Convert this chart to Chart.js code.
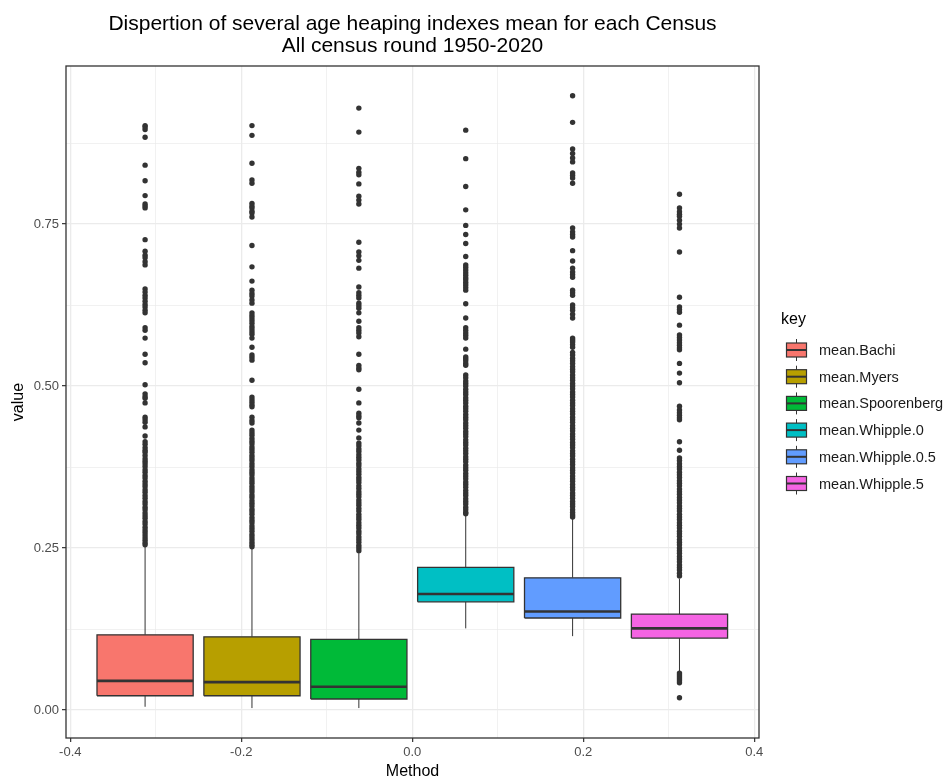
<!DOCTYPE html>
<html>
<head>
<meta charset="utf-8">
<title>Age heaping indexes</title>
<script src="https://cdn.jsdelivr.net/npm/chart.js@4.4.1/dist/chart.umd.min.js"></script>
<style>
    body { margin: 0; background: #ffffff; }
    #wrap { width: 944px; height: 781px; }
</style>
</head>
<body>
<div id="wrap"><canvas id="boxChart" width="944" height="781"></canvas></div>
<script>
// Series names, dodge positions and colours
var categories = ['mean.Bachi', 'mean.Myers', 'mean.Spoorenberg', 'mean.Whipple.0', 'mean.Whipple.0.5', 'mean.Whipple.5'];
var positions = [-0.3125, -0.1875, -0.0625, 0.0625, 0.1875, 0.3125];
var colors = ['#F8766D', '#B79F00', '#00BA38', '#00BFC4', '#619CFF', '#F564E3'];
var boxWidth = 0.1125;

// Box statistics
var lowerWhisker = [0.005, 0.003, 0.003, 0.126, 0.114, 0.057];
var q1 = [0.022, 0.022, 0.017, 0.167, 0.142, 0.111];
var median = [0.045, 0.043, 0.036, 0.179, 0.152, 0.126];
var q3 = [0.116, 0.113, 0.109, 0.220, 0.204, 0.148];
var upperWhisker = [0.252, 0.250, 0.243, 0.301, 0.296, 0.203];

// Outliers
var bachiOut = [0.902, 0.900, 0.896, 0.884, 0.841, 0.817, 0.794, 0.781, 0.778, 0.775, 0.726, 0.708, 0.702, 0.698, 0.692, 0.687,
    0.650, 0.645, 0.640, 0.636, 0.631, 0.626, 0.622, 0.617, 0.613, 0.590, 0.586, 0.574, 0.549, 0.536, 0.502, 0.488, 0.484,
    0.481, 0.474, 0.452, 0.448, 0.444, 0.437, 0.423, 0.414, 0.410, 0.405, 0.401, 0.398, 0.393, 0.388, 0.384, 0.380, 0.376,
    0.371, 0.367, 0.362, 0.358, 0.353, 0.349, 0.345, 0.340, 0.336, 0.331, 0.327, 0.322, 0.318, 0.313, 0.309, 0.304, 0.300,
    0.296, 0.291, 0.287, 0.282, 0.278, 0.274, 0.270, 0.266, 0.262, 0.258, 0.255];
var myersOut = [0.902, 0.887, 0.844, 0.818, 0.813, 0.782, 0.778, 0.775, 0.770, 0.767, 0.761, 0.717, 0.684, 0.662, 0.648, 0.643,
    0.639, 0.633, 0.628, 0.613, 0.609, 0.605, 0.601, 0.597, 0.592, 0.588, 0.584, 0.580, 0.574, 0.560, 0.548, 0.544, 0.540,
    0.509, 0.483, 0.479, 0.475, 0.471, 0.468, 0.452, 0.447, 0.443, 0.432, 0.428, 0.424, 0.419, 0.415, 0.411, 0.406, 0.402,
    0.398, 0.393, 0.389, 0.385, 0.380, 0.376, 0.371, 0.367, 0.363, 0.358, 0.354, 0.350, 0.345, 0.341, 0.337, 0.332, 0.328,
    0.323, 0.319, 0.315, 0.310, 0.306, 0.302, 0.297, 0.293, 0.289, 0.284, 0.280, 0.276, 0.271, 0.267, 0.263, 0.259, 0.255, 0.252];
var spoorenbergOut = [0.929, 0.892, 0.836, 0.830, 0.826, 0.812, 0.793, 0.787, 0.781, 0.722, 0.707, 0.701, 0.694, 0.682, 0.653,
    0.644, 0.640, 0.636, 0.628, 0.624, 0.620, 0.613, 0.600, 0.590, 0.586, 0.582, 0.576, 0.549, 0.532, 0.528, 0.525, 0.495,
    0.474, 0.458, 0.454, 0.451, 0.443, 0.432, 0.420, 0.412, 0.408, 0.403, 0.399, 0.394, 0.390, 0.386, 0.381, 0.377, 0.372,
    0.368, 0.364, 0.359, 0.355, 0.351, 0.346, 0.342, 0.337, 0.333, 0.329, 0.324, 0.320, 0.316, 0.311, 0.307, 0.302, 0.298,
    0.294, 0.289, 0.285, 0.281, 0.276, 0.272, 0.267, 0.263, 0.259, 0.254, 0.250, 0.246];
var whipple0Out = [0.895, 0.851, 0.808, 0.772, 0.748, 0.734, 0.720, 0.700, 0.687, 0.683, 0.679, 0.675, 0.671, 0.667, 0.664,
    0.660, 0.656, 0.652, 0.648, 0.627, 0.605, 0.590, 0.586, 0.582, 0.578, 0.574, 0.557, 0.545, 0.542, 0.539, 0.535, 0.532,
    0.517, 0.513, 0.508, 0.504, 0.500, 0.495, 0.491, 0.487, 0.482, 0.478, 0.474, 0.469, 0.465, 0.461, 0.456, 0.452, 0.448,
    0.443, 0.439, 0.435, 0.430, 0.426, 0.422, 0.417, 0.413, 0.409, 0.404, 0.400, 0.396, 0.391, 0.387, 0.383, 0.378, 0.374,
    0.370, 0.365, 0.361, 0.357, 0.352, 0.348, 0.344, 0.339, 0.335, 0.331, 0.326, 0.322, 0.318, 0.313, 0.309, 0.305, 0.303];
var whipple05Out = [0.948, 0.907, 0.866, 0.859, 0.852, 0.846, 0.829, 0.825, 0.821, 0.813, 0.744, 0.738, 0.734, 0.730, 0.709,
    0.693, 0.682, 0.676, 0.672, 0.668, 0.648, 0.644, 0.640, 0.625, 0.621, 0.617, 0.611, 0.605, 0.574, 0.571, 0.568, 0.564,
    0.560, 0.552, 0.548, 0.543, 0.539, 0.535, 0.530, 0.526, 0.522, 0.517, 0.513, 0.509, 0.504, 0.500, 0.496, 0.491, 0.487,
    0.483, 0.478, 0.474, 0.470, 0.465, 0.461, 0.457, 0.452, 0.448, 0.444, 0.439, 0.435, 0.431, 0.426, 0.422, 0.418, 0.413,
    0.409, 0.405, 0.400, 0.396, 0.392, 0.387, 0.383, 0.379, 0.374, 0.370, 0.366, 0.361, 0.357, 0.353, 0.348, 0.344, 0.340,
    0.335, 0.331, 0.327, 0.322, 0.318, 0.314, 0.309, 0.305, 0.301, 0.298];
var whipple5Out = [0.796, 0.775, 0.769, 0.765, 0.762, 0.756, 0.750, 0.744, 0.707, 0.637, 0.622, 0.618, 0.614, 0.594, 0.579,
    0.575, 0.571, 0.567, 0.563, 0.559, 0.556, 0.535, 0.520, 0.505, 0.469, 0.463, 0.459, 0.455, 0.451, 0.448, 0.414, 0.401,
    0.389, 0.385, 0.380, 0.376, 0.372, 0.367, 0.363, 0.359, 0.354, 0.350, 0.346, 0.341, 0.337, 0.333, 0.328, 0.324, 0.320,
    0.315, 0.311, 0.307, 0.302, 0.298, 0.294, 0.289, 0.285, 0.281, 0.276, 0.272, 0.268, 0.263, 0.259, 0.255, 0.250, 0.246,
    0.242, 0.237, 0.233, 0.229, 0.224, 0.220, 0.216, 0.211, 0.207, 0.057, 0.054, 0.051, 0.048, 0.045, 0.042, 0.019];
var outliers = [bachiOut, myersOut, spoorenbergOut, whipple0Out, whipple05Out, whipple5Out];

// Axis ticks (major with labels, minor only as grid lines)
var xTicks = [-0.4, -0.2, 0, 0.2, 0.4];
var xTickLabels = ['-0.4', '-0.2', '0.0', '0.2', '0.4'];
var xMinor = [-0.3, -0.1, 0.1, 0.3];
var yTicks = [0, 0.25, 0.5, 0.75];
var yTickLabels = ['0.00', '0.25', '0.50', '0.75'];
var yMinor = [0.125, 0.375, 0.625, 0.875];

var ink = '#333333';
var fontFamily = '"Liberation Sans", Arial, sans-serif';
var datasets = [];

// Chart.js draws higher "order" first, so the box fill sits under outline/median/points
for (var i = 0; i < categories.length; i++) {
    var c = positions[i];
    var l = c - boxWidth / 2;
    var r = c + boxWidth / 2;

    // whiskers (gap between the two parts)
    datasets.push({
        type: 'line', label: categories[i] + ' whisker', order: 4,
        data: [{x: c, y: lowerWhisker[i]}, {x: c, y: q1[i]}, {x: c, y: null}, {x: c, y: q3[i]}, {x: c, y: upperWhisker[i]}],
        borderColor: ink, borderWidth: 1, pointRadius: 0, fill: false, spanGaps: false
    });
    // box fill
    datasets.push({
        type: 'line', label: categories[i] + ' box', order: 3,
        data: [{x: l, y: q3[i]}, {x: r, y: q3[i]}],
        borderWidth: 0, borderColor: 'rgba(0,0,0,0)', backgroundColor: colors[i],
        pointRadius: 0, fill: {value: q1[i]}
    });
    // box outline
    datasets.push({
        type: 'line', label: categories[i] + ' outline', order: 2,
        data: [{x: l, y: q1[i]}, {x: l, y: q3[i]}, {x: r, y: q3[i]}, {x: r, y: q1[i]}, {x: l, y: q1[i]}],
        borderColor: ink, borderWidth: 1.3, pointRadius: 0, fill: false
    });
    // median
    datasets.push({
        type: 'line', label: categories[i] + ' median', order: 1,
        data: [{x: l, y: median[i]}, {x: r, y: median[i]}],
        borderColor: ink, borderWidth: 2.6, pointRadius: 0, fill: false
    });
    // outlier points
    datasets.push({
        type: 'scatter', label: categories[i] + ' outliers', order: 0,
        data: outliers[i].map(function (v) { return {x: c, y: v}; }),
        backgroundColor: ink, borderWidth: 0, pointRadius: 2.7
    });
}

function isMajor(list, v) {
    return list.some(function (t) { return Math.abs(t - v) < 1e-9; });
}

// Title, panel border and legend drawn around the chart area
var decorPlugin = {
    id: 'decor',
    afterDatasetsDraw: function (chart) {
        var ctx = chart.ctx;
        var a = chart.chartArea;
        ctx.save();
        ctx.strokeStyle = ink;
        ctx.lineWidth = 1.3;
        ctx.strokeRect(a.left, a.top, a.right - a.left, a.bottom - a.top);
        ctx.restore();
    },
    afterDraw: function (chart) {
        var ctx = chart.ctx;
        var a = chart.chartArea;
        ctx.save();
        // title
        var cx = (a.left + a.right) / 2;
        ctx.fillStyle = '#000000';
        ctx.textAlign = 'center';
        ctx.textBaseline = 'middle';
        ctx.font = '21px ' + fontFamily;
        ctx.fillText('Dispertion of several age heaping indexes mean for each Census', cx, 24);
        ctx.fillText('All census round 1950-2020', cx, 46);

        // legend
        ctx.textAlign = 'left';
        ctx.font = '16px ' + fontFamily;
        ctx.fillText('key', 781, 320);
        ctx.font = '14.5px ' + fontFamily;
        for (var i = 0; i < categories.length; i++) {
            var cy = 350 + i * 26.7;
            ctx.strokeStyle = ink;
            ctx.lineWidth = 1;
            ctx.beginPath();
            ctx.moveTo(796.5, cy - 11);
            ctx.lineTo(796.5, cy + 11);
            ctx.stroke();
            ctx.fillStyle = colors[i];
            ctx.fillRect(786.5, cy - 7, 20, 14);
            ctx.lineWidth = 1.2;
            ctx.strokeRect(786.5, cy - 7, 20, 14);
            ctx.lineWidth = 2;
            ctx.beginPath();
            ctx.moveTo(786.5, cy);
            ctx.lineTo(806.5, cy);
            ctx.stroke();
            ctx.fillStyle = '#1a1a1a';
            ctx.fillText(categories[i], 819, cy + 1);
        }
        ctx.restore();
    }
};

var ctx = document.getElementById('boxChart').getContext('2d');
var boxChart = new Chart(ctx, {
    type: 'line',
    data: { datasets: datasets },
    options: {
        responsive: false,
        animation: false,
        layout: { padding: { top: 66, right: 185, bottom: 0, left: 0 } },
        plugins: {
            legend: { display: false },
            tooltip: { enabled: false },
            title: { display: false }
        },
        scales: {
            x: {
                type: 'linear',
                min: -0.405,
                max: 0.4055,
                afterBuildTicks: function (axis) {
                    axis.ticks = xTicks.concat(xMinor).map(function (v) { return {value: v}; });
                },
                afterFit: function (axis) { axis.height = 43; },
                ticks: {
                    autoSkip: false,
                    maxRotation: 0,
                    padding: 3,
                    color: '#4D4D4D',
                    font: { family: fontFamily, size: 13 },
                    callback: function (v) {
                        var k = xTicks.findIndex(function (t) { return Math.abs(t - v) < 1e-9; });
                        return k >= 0 ? xTickLabels[k] : '';
                    }
                },
                grid: {
                    color: '#EBEBEB',
                    lineWidth: function (c) { return isMajor(xTicks, c.tick.value) ? 1.3 : 0.7; },
                    tickColor: function (c) { return isMajor(xTicks, c.tick.value) ? ink : 'rgba(0,0,0,0)'; },
                    tickWidth: 1.2,
                    tickLength: 4
                },
                border: { display: false },
                title: {
                    display: true,
                    text: 'Method',
                    color: '#000000',
                    padding: { top: 1, bottom: 0 },
                    font: { family: fontFamily, size: 16 }
                }
            },
            y: {
                type: 'linear',
                min: -0.0432,
                max: 0.994,
                afterBuildTicks: function (axis) {
                    axis.ticks = yTicks.concat(yMinor).map(function (v) { return {value: v}; });
                },
                afterFit: function (axis) { axis.width = 66; },
                ticks: {
                    autoSkip: false,
                    padding: 3,
                    color: '#4D4D4D',
                    font: { family: fontFamily, size: 13 },
                    callback: function (v) {
                        var k = yTicks.findIndex(function (t) { return Math.abs(t - v) < 1e-9; });
                        return k >= 0 ? yTickLabels[k] : '';
                    }
                },
                grid: {
                    color: '#EBEBEB',
                    lineWidth: function (c) { return isMajor(yTicks, c.tick.value) ? 1.3 : 0.7; },
                    tickColor: function (c) { return isMajor(yTicks, c.tick.value) ? ink : 'rgba(0,0,0,0)'; },
                    tickWidth: 1.2,
                    tickLength: 4
                },
                border: { display: false },
                title: {
                    display: true,
                    text: 'value',
                    color: '#000000',
                    padding: { top: 9, bottom: 0 },
                    font: { family: fontFamily, size: 16 }
                }
            }
        }
    },
    plugins: [decorPlugin]
});
</script>
</body>
</html>
